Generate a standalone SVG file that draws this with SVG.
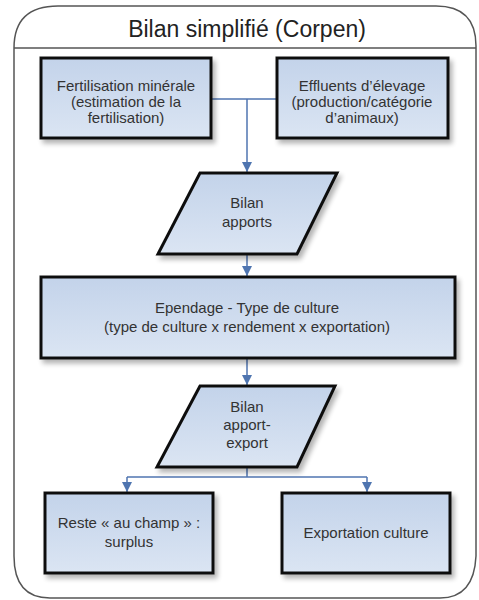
<svg xmlns="http://www.w3.org/2000/svg" width="479" height="600" viewBox="0 0 479 600">
<defs>
<linearGradient id="g" x1="0" y1="0" x2="0" y2="1">
<stop offset="0" stop-color="#c3d3ea"/>
<stop offset="1" stop-color="#dbe5f3"/>
</linearGradient>
<filter id="sh" x="-10%" y="-10%" width="130%" height="140%">
<feGaussianBlur in="SourceAlpha" stdDeviation="2.5"/>
<feOffset dx="3" dy="4"/>
<feComponentTransfer><feFuncA type="linear" slope="0.3"/></feComponentTransfer>
<feMerge><feMergeNode/><feMergeNode in="SourceGraphic"/></feMerge>
</filter>
<marker id="arr" viewBox="0 0 10 10" refX="10" refY="5" markerWidth="10" markerHeight="10" markerUnits="userSpaceOnUse" orient="auto">
<path d="M0,0 L10,5 L0,10 z" fill="#4f75b0"/>
</marker>
</defs>
<style>
.node{fill:url(#g);stroke:#111;stroke-width:3;filter:url(#sh)}
.t{font-family:"Liberation Sans",Arial,sans-serif;font-size:15px;fill:#333;text-anchor:middle}
.c{fill:none;stroke:#4f75b0;stroke-width:1.5}
</style>
<rect x="0" y="0" width="479" height="600" fill="#fff"/>
<g id="frame">
<path d="M14,556 L14,48 Q14,6 58,6 L436,6 Q476,6 476,46 L476,556 Q474,598 440,598 L50,598 Q14,598 14,556 Z" fill="#fff" stroke="#555" stroke-width="1.5"/>
<line x1="14" y1="48" x2="476" y2="48" stroke="#555" stroke-width="1.5"/>
<text x="247" y="37" style="font-family:'Liberation Sans',Arial,sans-serif;font-size:23px;fill:#222;text-anchor:middle">Bilan simplifié (Corpen)</text>
</g>
<g id="connectors">
<path class="c" d="M212,99 L277,99"/>
<path class="c" d="M247,99 L247,172" marker-end="url(#arr)"/>
<path class="c" d="M247,255 L247,276" marker-end="url(#arr)"/>
<path class="c" d="M247,359 L247,385" marker-end="url(#arr)"/>
<path class="c" d="M247,468 L247,477"/>
<path class="c" d="M127,477 L367,477"/>
<path class="c" d="M127,477 L127,492" marker-end="url(#arr)"/>
<path class="c" d="M367,477 L367,492" marker-end="url(#arr)"/>
</g>
<g id="n1">
<rect class="node" x="41" y="58" width="170" height="80"/>
<text class="t" x="126" y="91">Fertilisation minérale</text>
<text class="t" x="126" y="107">(estimation de la</text>
<text class="t" x="126" y="123">fertilisation)</text>
</g>
<g id="n2">
<rect class="node" x="277" y="58" width="171" height="80"/>
<text class="t" x="362" y="91">Effluents d’élevage</text>
<text class="t" x="362" y="107">(production/catégorie</text>
<text class="t" x="362" y="123">d’animaux)</text>
</g>
<g id="n3">
<polygon class="node" points="200,173 337,173 297,254 158,254"/>
<text class="t" x="247" y="208">Bilan</text>
<text class="t" x="247" y="227">apports</text>
</g>
<g id="n4">
<rect class="node" x="41" y="277" width="414" height="81"/>
<text class="t" x="247" y="313">Ependage - Type de culture</text>
<text class="t" x="247" y="332">(type de culture x rendement x exportation)</text>
</g>
<g id="n5">
<polygon class="node" points="200,386 335,386 297,467 157,467"/>
<text class="t" x="247" y="412">Bilan</text>
<text class="t" x="247" y="430">apport-</text>
<text class="t" x="247" y="448">export</text>
</g>
<g id="n6">
<rect class="node" x="45" y="493" width="168" height="80"/>
<text class="t" x="129" y="528">Reste « au champ » :</text>
<text class="t" x="129" y="547">surplus</text>
</g>
<g id="n7">
<rect class="node" x="282" y="493" width="168" height="80"/>
<text class="t" x="366" y="538">Exportation culture</text>
</g>
</svg>
